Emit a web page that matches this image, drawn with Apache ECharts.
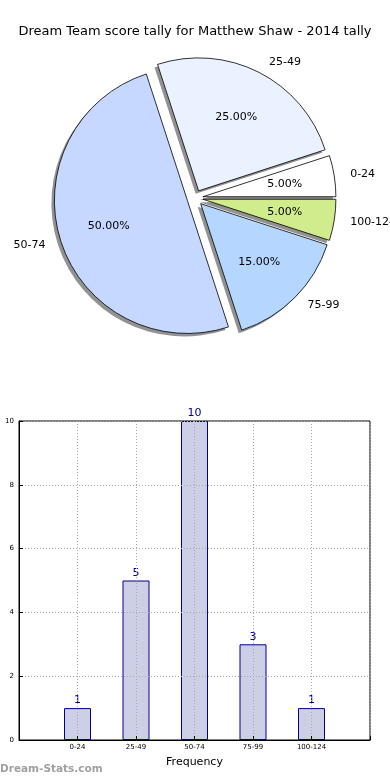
<!DOCTYPE html>
<html><head><meta charset="utf-8">
<script src="https://cdn.jsdelivr.net/npm/echarts@6/dist/echarts.min.js"></script>
<style>html,body{margin:0;padding:0;background:#fff}#c{width:390px;height:780px}</style>
</head><body><div id="c"></div>
<script>
const titleText = 'Dream Team score tally for Matthew Shaw - 2014 tally';
const categories = ['0-24', '25-49', '50-74', '75-99', '100-124'];
const counts = [1, 5, 10, 3, 1];
const pieColors = ['#ffffff', '#eaf1ff', '#c6d8ff', '#b4d6ff', '#d1ec8c'];

const FONT = 'DejaVu Sans';
const C = [195, 198];
const R = 133;

const mkData = (styleFn) => categories.map((c, i) => {
  const st = styleFn(i);
  return { name: c, value: counts[i], selected: true, itemStyle: st, select: { itemStyle: st } };
});
const mainData = mkData(i => ({ color: pieColors[i], borderColor: '#000', borderWidth: 0.8 }));
const shadowData = mkData(() => ({ color: 'rgba(110,110,110,0.75)', borderWidth: 0 }));
const labelData = mkData(() => ({ color: 'rgba(0,0,0,0)', borderWidth: 0 }));

// x category axis padded with empty slots on both ends
const xCats = [''].concat(categories, ['']);
const barVals = ['-'].concat(counts, ['-']);

const gridLine = { color: '#aaaaaa', type: [1, 2], width: 1 };

const pieBase = {
  type: 'pie', startAngle: 0, clockwise: false, silent: true,
  selectedMode: 'multiple', selectedOffset: 8, avoidLabelOverlap: false,
  emphasis: { disabled: true }
};

const chart = echarts.init(document.getElementById('c'), null, { renderer: 'canvas' });
chart.setOption({
  animation: false,
  backgroundColor: '#fff',
  textStyle: { fontFamily: FONT },
  title: {
    text: titleText, left: 'center', top: 20,
    textStyle: { fontFamily: FONT, fontSize: 13, fontWeight: 'normal', color: '#000' }
  },
  graphic: [{
    type: 'text', left: 0, top: 764,
    style: { text: 'Dream-Stats.com', fill: '#a0a0a0', font: 'bold 10.5px "DejaVu Sans"' }
  }],
  grid: { left: 19, right: 20, top: 421, bottom: 40, show: true, borderColor: '#000', borderWidth: 1, outerBoundsMode: 'none' },
  xAxis: {
    type: 'category', data: xCats, boundaryGap: false, z: 5,
    name: 'Frequency', nameLocation: 'middle', nameGap: 17,
    nameTextStyle: { fontFamily: FONT, fontSize: 11, color: '#000' },
    axisLine: { lineStyle: { color: '#000', width: 1 } },
    axisTick: { show: true, inside: true, length: 4, lineStyle: { color: '#000' } },
    axisLabel: { fontFamily: FONT, fontSize: 7, color: '#000', margin: 4, interval: 0 },
    splitLine: { show: true, lineStyle: gridLine }
  },
  yAxis: {
    type: 'value', min: 0, max: 10, interval: 2, z: 5,
    axisLine: { show: true, lineStyle: { color: '#000', width: 1 } },
    axisTick: { show: true, inside: true, length: 4, lineStyle: { color: '#000' } },
    axisLabel: { fontFamily: FONT, fontSize: 7, color: '#000', margin: 5 },
    splitLine: { show: true, lineStyle: gridLine }
  },
  series: [
    {
      type: 'bar', data: barVals, barWidth: 27, z: 1,
      itemStyle: { color: '#cccfe6', borderColor: '#00008b', borderWidth: 1 },
      label: { show: true, position: 'top', distance: 2, color: '#00008b', fontFamily: FONT, fontSize: 11 },
      emphasis: { disabled: true },
      markLine: {
        silent: true, symbol: 'none', animation: false,
        label: { show: false },
        lineStyle: gridLine,
        data: categories.map(c => ({ xAxis: c })).concat([2, 4, 6, 8].map(v => ({ yAxis: v })))
      }
    },
    Object.assign({}, pieBase, {
      center: [C[0] - 3, C[1] + 3], radius: R, z: 1,
      data: shadowData, label: { show: false }, labelLine: { show: false }
    }),
    Object.assign({}, pieBase, {
      center: C, radius: R, z: 2,
      data: mainData,
      label: { show: true, position: 'outside', formatter: '{b}', color: '#000', fontFamily: FONT, fontSize: 11, distanceToLabelLine: 5 },
      labelLine: { show: false, length: 11, length2: 0 }
    }),
    Object.assign({}, pieBase, {
      center: C, radius: R * 1.2, z: 3,
      data: labelData,
      label: { show: true, position: 'inside', formatter: p => p.percent.toFixed(2) + '%', color: '#000', fontFamily: FONT, fontSize: 11 },
      labelLine: { show: false }
    })
  ]
});
</script>
</body></html>
